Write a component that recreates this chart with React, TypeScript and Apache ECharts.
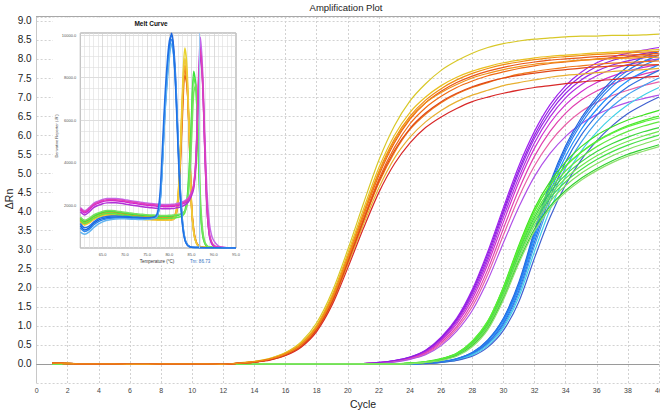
import { useEffect, useRef } from "react";
import * as echarts from "echarts";

// ---------- Amplification plot data (ΔRn per cycle) ----------
const cycles = [1,2,3,4,5,6,7,8,9,10,11,12,13,14,15,16,17,18,19,20,21,22,23,24,25,26,27,28,29,30,31,32,33,34,35,36,37,38,39,40];

const ampOrange = [
  [0.03,0.02,0,0,0,-0.01,-0.01,0,0,0,0,-0.01,0.03,0.07,0.15,0.3,0.58,1.08,1.9,3.0,4.2,5.35,6.25,6.9,7.35,7.7,7.95,8.15,8.3,8.4,8.47,8.52,8.55,8.58,8.6,8.6,8.62,8.62,8.63,8.65],
  [0.03,0.02,0,0,0,-0.01,-0.01,0,0,0,0,-0.01,0.02,0.06,0.14,0.29,0.55,1.02,1.82,2.9,4.05,5.15,6.0,6.6,7.0,7.3,7.52,7.68,7.8,7.9,7.97,8.03,8.07,8.1,8.13,8.16,8.18,8.2,8.22,8.25],
  [0.02,0.02,0,0,0,-0.01,-0.01,0,0,0,0,-0.01,0.02,0.06,0.13,0.27,0.52,0.98,1.76,2.82,3.95,5.05,5.9,6.5,6.92,7.22,7.45,7.62,7.75,7.85,7.92,7.98,8.03,8.06,8.09,8.12,8.14,8.16,8.18,8.2],
  [0.02,0.01,0,0,0,-0.01,-0.01,0,0,0,0,-0.01,0.02,0.05,0.12,0.25,0.5,0.95,1.7,2.75,3.88,4.95,5.8,6.42,6.85,7.15,7.38,7.55,7.68,7.78,7.86,7.92,7.97,8.0,8.03,8.06,8.08,8.1,8.12,8.15],
  [0.02,0.01,0,0,0,-0.01,-0.01,0,0,0,0,-0.01,0.02,0.05,0.12,0.24,0.48,0.92,1.66,2.7,3.8,4.85,5.68,6.3,6.72,7.02,7.25,7.42,7.56,7.66,7.75,7.82,7.88,7.92,7.96,8.0,8.03,8.05,8.08,8.1],
  [0.02,0.01,0,0,0,-0.01,-0.01,0,0,0,0,-0.01,0.02,0.05,0.11,0.23,0.46,0.9,1.62,2.65,3.72,4.75,5.55,6.15,6.55,6.85,7.08,7.25,7.38,7.5,7.6,7.67,7.73,7.78,7.82,7.86,7.89,7.91,7.93,7.95],
  [0.02,0.01,0,0,0,-0.01,-0.01,0,0,0,0,-0.01,0.02,0.05,0.11,0.23,0.45,0.88,1.6,2.6,3.65,4.62,5.4,5.95,6.35,6.65,6.88,7.05,7.18,7.3,7.38,7.45,7.52,7.57,7.6,7.64,7.67,7.7,7.72,7.75],
  [0.02,0.01,0,0,0,-0.01,-0.01,0,0,0,0,-0.01,0.02,0.05,0.1,0.22,0.44,0.85,1.55,2.52,3.55,4.5,5.25,5.8,6.2,6.48,6.7,6.88,7.0,7.1,7.18,7.25,7.3,7.35,7.4,7.43,7.46,7.5,7.52,7.55],
  [0.02,0.01,0,0,0,-0.01,-0.01,0,0,0,0,-0.01,0.02,0.05,0.12,0.24,0.47,0.9,1.63,2.66,3.75,4.8,5.6,6.18,6.58,6.88,7.1,7.27,7.4,7.5,7.57,7.63,7.68,7.72,7.76,7.79,7.81,7.83,7.84,7.85],
  [0.02,0.01,0,0,0,-0.01,-0.01,0,0,0,0,-0.01,0.02,0.06,0.13,0.26,0.5,0.96,1.72,2.78,3.92,5.0,5.85,6.45,6.85,7.12,7.33,7.5,7.62,7.72,7.8,7.86,7.9,7.94,7.97,7.99,8.01,8.02,8.04,8.05],
];
const ampOrangeColors = ["#d8c828","#e8c020","#f08a10","#e8561a","#f06a14","#f07818","#e8b030","#d82828","#e04818","#f09018"];

const ampMagenta = [
  [0.03,0.02,0,0,0,0,0,0,0,0,0,0,0,0,0,0,0,0,0,0,0.01,0.04,0.09,0.18,0.36,0.7,1.2,1.95,2.95,4.1,5.2,6.1,6.8,7.3,7.65,7.9,8.05,8.15,8.23,8.3],
  [0.03,0.02,0,0,0,0,0,0,0,0,0,0,0,0,0,0,0,0,0,0,0.01,0.03,0.08,0.17,0.34,0.66,1.14,1.85,2.8,3.95,5.02,5.92,6.6,7.1,7.45,7.68,7.84,7.95,8.03,8.1],
  [0,0,0,0,0,0,0,0,0,0,0,0,0,0,0,0,0,0,0,0,0.01,0.03,0.08,0.16,0.32,0.63,1.1,1.78,2.72,3.85,4.9,5.8,6.48,6.98,7.32,7.56,7.73,7.85,7.93,8.0],
  [0,0,0,0,0,0,0,0,0,0,0,0,0,0,0,0,0,0,0,0,0.01,0.03,0.07,0.15,0.3,0.6,1.05,1.7,2.62,3.72,4.78,5.66,6.32,6.8,7.14,7.38,7.55,7.68,7.78,7.85],
  [0,0,0,0,0,0,0,0,0,0,0,0,0,0,0,0,0,0,0,0,0.01,0.03,0.07,0.14,0.28,0.56,0.98,1.6,2.48,3.55,4.58,5.45,6.1,6.58,6.92,7.16,7.34,7.48,7.6,7.7],
  [0,0,0,0,0,0,0,0,0,0,0,0,0,0,0,0,0,0,0,0,0.01,0.02,0.06,0.13,0.26,0.52,0.92,1.5,2.35,3.38,4.38,5.2,5.82,6.28,6.62,6.86,7.04,7.18,7.3,7.4],
  [0,0,0,0,0,0,0,0,0,0,0,0,0,0,0,0,0,0,0,0,0.01,0.02,0.05,0.12,0.24,0.48,0.86,1.4,2.2,3.18,4.12,4.92,5.52,5.97,6.3,6.54,6.72,6.86,6.96,7.05],
  [0,0,0,0,0,0,0,0,0,0,0,0,0,0,0,0,0,0,0,0,0.01,0.04,0.09,0.18,0.35,0.68,1.17,1.9,2.88,4.02,5.1,6.0,6.7,7.2,7.55,7.8,7.96,8.06,8.14,8.2],
];
const ampMagentaColors = ["#a020f0","#9a28e8","#b030e0","#d030d0","#e040b0","#e860a8","#b050e8","#9020e0"];

const ampBlue = [
  [0,0,0,0,0,0,0,0,0,0,0,0,0,0,0,0,0,0,0,0,0,0,0,0,0.02,0.06,0.14,0.3,0.63,1.2,2.15,3.5,4.75,5.72,6.45,7.0,7.45,7.8,8.05,8.2],
  [0,0,0,0,0,0,0,0,0,0,0,0,0,0,0,0,0,0,0,0,0,0,0,0,0.02,0.05,0.13,0.29,0.6,1.15,2.05,3.38,4.62,5.58,6.3,6.85,7.28,7.6,7.83,8.0],
  [0,0,0,0,0,0,0,0,0,0,0,0,0,0,0,0,0,0,0,0,0,0,0,0,0.02,0.05,0.12,0.27,0.57,1.1,2.0,3.3,4.5,5.45,6.15,6.68,7.1,7.43,7.66,7.85],
  [0,0,0,0,0,0,0,0,0,0,0,0,0,0,0,0,0,0,0,0,0,0,0,0,0.02,0.05,0.12,0.26,0.55,1.05,1.92,3.2,4.38,5.3,6.0,6.52,6.95,7.27,7.5,7.7],
  [0,0,0,0,0,0,0,0,0,0,0,0,0,0,0,0,0,0,0,0,0,0,0,0,0.02,0.05,0.11,0.25,0.52,1.0,1.85,3.1,4.25,5.15,5.82,6.35,6.76,7.07,7.3,7.5],
  [0,0,0,0,0,0,0,0,0,0,0,0,0,0,0,0,0,0,0,0,0,0,0,0,0.02,0.04,0.1,0.23,0.48,0.95,1.76,2.95,4.05,4.92,5.58,6.08,6.48,6.8,7.05,7.25],
  [0,0,0,0,0,0,0,0,0,0,0,0,0,0,0,0,0,0,0,0,0,0,0,0,0.01,0.04,0.09,0.2,0.44,0.88,1.64,2.78,3.85,4.7,5.35,5.85,6.25,6.57,6.8,7.0],
  [0,0,0,0,0,0,0,0,0,0,0,0,0,0,0,0,0,0,0,0,0,0,0,0,0.02,0.06,0.13,0.3,0.62,1.18,2.1,3.45,4.7,5.66,6.38,6.93,7.37,7.7,7.93,8.1],
];
const ampBlueColors = ["#1e64e0","#2a80f0","#1e90ff","#3070e0","#40a0f0","#40d0e8","#4060d0","#2878e8"];

const ampGreen = [
  [0,0,0,0,0,0,0,0,0,0,0,0,0,0,0,0,0,0,0,0,0,0,0,0.02,0.06,0.14,0.28,0.6,1.12,2.02,3.12,4.08,4.78,5.3,5.7,6.0,6.22,6.4,6.53,6.65],
  [0,0,0,0,0,0,0,0,0,0,0,0,0,0,0,0,0,0,0,0,0,0,0,0.02,0.05,0.13,0.27,0.58,1.1,1.98,3.05,4.0,4.68,5.18,5.56,5.85,6.07,6.25,6.39,6.5],
  [0,0,0,0,0,0,0,0,0,0,0,0,0,0,0,0,0,0,0,0,0,0,0,0.02,0.05,0.12,0.26,0.56,1.07,1.93,3.0,3.92,4.58,5.06,5.42,5.7,5.92,6.1,6.24,6.35],
  [0,0,0,0,0,0,0,0,0,0,0,0,0,0,0,0,0,0,0,0,0,0,0,0.02,0.05,0.12,0.25,0.55,1.05,1.9,2.95,3.85,4.5,4.96,5.3,5.57,5.78,5.95,6.09,6.2],
  [0,0,0,0,0,0,0,0,0,0,0,0,0,0,0,0,0,0,0,0,0,0,0,0.02,0.05,0.11,0.24,0.53,1.02,1.86,2.9,3.78,4.42,4.87,5.2,5.46,5.67,5.84,5.98,6.1],
  [0,0,0,0,0,0,0,0,0,0,0,0,0,0,0,0,0,0,0,0,0,0,0,0.01,0.04,0.11,0.24,0.52,1.0,1.83,2.85,3.72,4.35,4.78,5.1,5.36,5.57,5.74,5.88,6.0],
  [0,0,0,0,0,0,0,0,0,0,0,0,0,0,0,0,0,0,0,0,0,0,0,0.01,0.04,0.1,0.23,0.5,0.97,1.78,2.78,3.64,4.26,4.68,5.0,5.25,5.46,5.63,5.77,5.9],
  [0,0,0,0,0,0,0,0,0,0,0,0,0,0,0,0,0,0,0,0,0,0,0,0.01,0.04,0.1,0.22,0.48,0.93,1.72,2.7,3.54,4.14,4.55,4.87,5.12,5.33,5.5,5.63,5.75],
  [0,0,0,0,0,0,0,0,0,0,0,0,0,0,0,0,0,0,0,0,0,0,0,0.02,0.06,0.13,0.28,0.6,1.13,2.0,3.08,4.02,4.7,5.2,5.55,5.83,6.05,6.22,6.35,6.45],
  [0,0,0,0,0,0,0,0,0,0,0,0,0,0,0,0,0,0,0,0,0,0,0,0.01,0.04,0.09,0.2,0.45,0.9,1.68,2.65,3.48,4.08,4.5,4.82,5.07,5.28,5.45,5.58,5.7],
];
const ampGreenColors = ["#40e020","#50e830","#60e840","#3cd83c","#70e850","#48e048","#80e060","#30d030","#58f038","#90e070"];

// ---------- Melt curve data (derivative reporter vs temperature) ----------
const meltTemps = [60,61,62,63,64,65,66,67,68,69,70,71,72,73,74,75,76,77,77.5,78,78.5,79,79.5,80,80.5,81,81.5,82,82.5,83,83.5,84,84.5,85,85.5,86,86.5,87,87.5,88,88.5,89,89.5,90,91,92,93,95];

const meltBlue = [
  [1050,850,950,1150,1300,1380,1420,1440,1450,1450,1440,1430,1420,1410,1400,1400,1410,1450,1650,2400,4300,6500,8100,9400,10100,9400,7700,5000,2700,1200,450,180,80,40,30,25,20,20,20,15,15,15,10,10,10,10,10,5],
  [950,780,880,1080,1230,1320,1370,1400,1410,1410,1400,1390,1380,1370,1360,1360,1380,1420,1600,2300,4100,6300,7900,9200,9800,9100,7400,4800,2500,1100,400,160,70,35,25,20,20,15,15,15,10,10,10,10,10,5,5,5],
  [750,650,760,950,1120,1230,1300,1340,1360,1370,1370,1360,1350,1340,1340,1350,1370,1420,1620,2350,4150,6200,7700,8900,9600,9000,7400,4900,2600,1150,430,170,75,40,25,20,20,15,15,15,10,10,10,10,10,5,5,5],
  [1150,950,1030,1220,1370,1440,1480,1500,1500,1490,1480,1470,1450,1440,1430,1420,1430,1500,1800,2800,4900,7000,8600,9700,10000,9100,7200,4500,2300,1000,380,150,70,35,25,20,20,15,15,15,10,10,10,10,10,5,5,5],
];
const meltBlueColors = ["#1a5fd8","#2c86ec","#62b4f0","#1f70e6"];

const meltOrange = [
  [1350,1200,1300,1450,1550,1620,1650,1650,1630,1600,1570,1540,1510,1490,1470,1450,1440,1430,1425,1420,1415,1410,1410,1410,1420,1450,1600,2300,4200,6800,8400,7700,5200,2000,800,300,120,60,40,30,25,20,20,15,15,10,10,5],
  [1400,1250,1350,1500,1600,1670,1700,1700,1680,1650,1620,1590,1560,1540,1520,1500,1490,1480,1470,1460,1455,1450,1450,1450,1460,1500,1700,2500,4500,7100,8600,7800,5100,1900,750,280,110,55,40,30,25,20,20,15,15,10,10,5],
  [1250,1100,1200,1350,1450,1520,1560,1560,1540,1510,1480,1450,1420,1400,1380,1360,1350,1340,1335,1330,1325,1320,1320,1320,1330,1360,1500,2150,3900,6400,8100,7600,5300,2100,850,320,130,60,40,30,25,20,20,15,15,10,10,5],
];
const meltOrangeColors = ["#f07a12","#f58a1c","#e86a10"];

const meltYellow = [
  [1300,1150,1250,1400,1500,1570,1600,1600,1580,1550,1520,1490,1460,1440,1420,1400,1390,1380,1375,1370,1365,1360,1360,1360,1370,1410,1600,2500,4700,7600,9400,8400,5400,2000,750,280,110,55,40,30,25,20,20,15,15,10,10,5],
  [1200,1080,1180,1330,1430,1500,1530,1530,1510,1480,1450,1420,1390,1370,1350,1330,1320,1310,1305,1300,1300,1300,1300,1300,1310,1350,1530,2350,4400,7200,8900,8000,5200,1950,720,270,110,55,40,30,25,20,20,15,15,10,10,5],
];
const meltYellowColors = ["#e8d22c","#f0c83a"];

const meltGreen = [
  [1400,1250,1350,1500,1600,1680,1720,1720,1700,1670,1640,1610,1580,1560,1540,1520,1510,1500,1495,1490,1490,1490,1490,1495,1500,1510,1520,1540,1570,1620,1750,2300,3800,6200,8300,7600,4600,1800,600,200,80,40,30,20,15,10,10,5],
  [1300,1150,1250,1400,1500,1580,1620,1620,1600,1570,1540,1510,1480,1460,1440,1420,1410,1400,1395,1390,1390,1390,1390,1395,1400,1410,1420,1440,1470,1520,1650,2150,3600,5900,8000,7500,4700,1900,650,220,90,45,30,20,15,10,10,5],
  [1450,1300,1400,1550,1650,1720,1760,1760,1740,1710,1680,1650,1620,1600,1580,1560,1550,1540,1535,1530,1530,1530,1530,1535,1540,1550,1560,1580,1600,1640,1720,2000,3000,5000,7300,7700,5600,2400,850,280,110,50,30,20,15,10,10,5],
];
const meltGreenColors = ["#3ee03e","#5ae84a","#78e060"];

const meltMagenta = [
  [1800,1650,1800,2000,2100,2180,2220,2230,2220,2200,2170,2130,2100,2070,2040,2010,1990,1970,1960,1950,1945,1940,1940,1945,1950,1960,1980,2000,2030,2070,2120,2200,2330,2550,2900,4100,7300,9500,7900,4600,1800,600,220,90,30,20,15,10],
  [1900,1750,1900,2100,2200,2280,2320,2330,2320,2300,2270,2230,2200,2170,2140,2110,2090,2070,2060,2050,2045,2040,2040,2045,2050,2060,2080,2100,2130,2170,2220,2300,2430,2650,3000,4300,7600,9900,8300,5200,2600,1200,600,350,100,30,15,10],
  [1700,1550,1700,1900,2000,2080,2120,2130,2120,2100,2070,2030,2000,1970,1940,1910,1890,1870,1860,1850,1845,1840,1840,1845,1850,1860,1880,1900,1930,1970,2020,2100,2230,2450,2800,3900,7000,9100,7700,4500,1800,600,220,90,30,20,15,10],
  [1850,1700,1850,2050,2150,2230,2270,2280,2270,2250,2220,2180,2150,2120,2090,2060,2040,2020,2010,2000,1995,1990,1990,1995,2000,2010,2030,2050,2080,2120,2170,2250,2380,2600,2950,4200,7200,9300,7800,4700,1900,700,300,120,40,20,15,10],
];
const meltMagentaColors = ["#d21ed2","#c468e8","#b030d8","#e040b8"];

const meltTm = 86.73;

const FONT = "'Liberation Sans', Arial, sans-serif";

export default function App() {
  const ref = useRef<HTMLDivElement>(null);

  useEffect(() => {
    if (!ref.current) return;
    const chart = echarts.init(ref.current, null, { renderer: "svg" });

    const ampSeries = (group: number[][], colors: string[]) =>
      group.map((vals, i) => ({
        type: "line",
        xAxisIndex: 0,
        yAxisIndex: 0,
        data: cycles.map((c, j) => [c, vals[j]]),
        symbol: "none",
        showSymbol: false,
        smooth: 0.3,
        silent: true,
        z: 2,
        lineStyle: { width: 1.2, color: colors[i] },
        itemStyle: { color: colors[i] },
      }));

    const meltSeries = (group: number[][], colors: string[]) =>
      group.map((vals, i) => ({
        type: "line",
        xAxisIndex: 1,
        yAxisIndex: 1,
        data: meltTemps.map((t, j) => [t, vals[j]]),
        symbol: "none",
        showSymbol: false,
        smooth: 0.3,
        silent: true,
        z: 4,
        lineStyle: { width: 1.5, color: colors[i] },
        itemStyle: { color: colors[i] },
      }));

    const tmLine = {
      type: "line",
      xAxisIndex: 1,
      yAxisIndex: 1,
      data: [],
      z: 4,
      silent: true,
      markLine: {
        silent: true,
        symbol: "none",
        label: { show: false },
        lineStyle: { color: "#9cc8f0", width: 1, type: "solid" },
        data: [{ xAxis: meltTm }],
      },
    };

    const option: any = {
      animation: false,
      textStyle: { fontFamily: FONT },
      grid: [
        { left: 36.6, right: 1, top: 17, bottom: 31, outerBoundsMode: "none", containLabel: false },
        {
          left: 80.3, right: 424, top: 33, bottom: 166,
          show: true, backgroundColor: "transparent", borderColor: "#9a9a9a", borderWidth: 1, z: 3,
          outerBoundsMode: "none", containLabel: false,
        },
      ],
      xAxis: [
        {
          type: "value", gridIndex: 0, min: 0, max: 40, interval: 2,
          axisLine: { show: true, lineStyle: { color: "#9a9a9a" } },
          axisTick: { show: false },
          axisLabel: { fontSize: 7, color: "#444", margin: 4, fontFamily: FONT },
          splitLine: { show: true, lineStyle: { color: "#d2d2d2", type: [2, 2], width: 1 } },
        },
        {
          type: "value", gridIndex: 1, min: 60, max: 95, interval: 5, z: 3,
          axisLine: { show: false },
          axisTick: { show: false },
          minorTick: { show: false, splitNumber: 5 },
          axisLabel: {
            fontSize: 4, color: "#555", margin: 4, fontFamily: FONT,
            formatter: (v: number) => (v > 60 && v % 5 === 0 ? v.toFixed(1) : ""),
          },
          splitLine: { show: true, lineStyle: { color: "#cfcfcf", width: 0.7 } },
          minorSplitLine: { show: true, lineStyle: { color: "#dedede", width: 0.6 } },
        },
      ],
      yAxis: [
        {
          type: "value", gridIndex: 0, min: -0.5, max: 9.1, interval: 0.5,
          axisLine: { show: true, lineStyle: { color: "#c8c8c8" } },
          axisTick: { show: false },
          axisLabel: {
            fontSize: 10, color: "#222", margin: 5, fontFamily: FONT,
            formatter: (v: number) =>
              v >= -0.0001 && v <= 9.0001 && Math.abs(v * 2 - Math.round(v * 2)) < 1e-6 ? v.toFixed(1) : "",
          },
          splitLine: { show: true, lineStyle: { color: "#d2d2d2", type: [2, 2], width: 1 } },
        },
        {
          type: "value", gridIndex: 1, min: 0, max: 10100, interval: 2000, z: 3,
          axisLine: { show: false },
          axisTick: { show: false },
          minorTick: { show: false, splitNumber: 4 },
          axisLabel: {
            fontSize: 4, color: "#555", margin: 4, fontFamily: FONT,
            formatter: (v: number) => (v > 0 && v % 2000 === 0 ? v.toFixed(1) : ""),
          },
          splitLine: { show: true, lineStyle: { color: "#cfcfcf", width: 0.7 } },
          minorSplitLine: { show: true, lineStyle: { color: "#dedede", width: 0.6 } },
        },
      ],
      graphic: [
        { type: "rect", z: 1, silent: true, shape: { x: 53, y: 17.5, width: 188, height: 248 }, style: { fill: "#ffffff" } },
        { type: "line", z: 6, silent: true, shape: { x1: 36, y1: 16.5, x2: 660, y2: 16.5 }, style: { stroke: "#a8a8a8", lineWidth: 1 } },
        { type: "text", z: 10, x: 346, y: 7, style: { text: "Amplification Plot", fontSize: 9.5, fill: "#222", align: "center", verticalAlign: "middle", fontFamily: FONT } },
        { type: "text", z: 10, x: 9, y: 199, rotation: Math.PI / 2, style: { text: "ΔRn", fontSize: 10.5, fill: "#222", align: "center", verticalAlign: "middle", fontFamily: FONT } },
        { type: "text", z: 10, x: 363, y: 404, style: { text: "Cycle", fontSize: 10.5, fill: "#222", align: "center", verticalAlign: "middle", fontFamily: FONT } },
        { type: "text", z: 10, x: 151, y: 23, style: { text: "Melt Curve", fontSize: 6.5, fontWeight: "bold", fill: "#111", align: "center", verticalAlign: "middle", fontFamily: FONT } },
        { type: "text", z: 10, x: 157, y: 261, style: { text: "Temperature (°C)", fontSize: 4.5, fill: "#333", align: "center", verticalAlign: "middle", fontFamily: FONT } },
        { type: "text", z: 10, x: 200, y: 261, style: { text: "Tm: 86.73", fontSize: 4.5, fill: "#2f6fc0", align: "center", verticalAlign: "middle", fontFamily: FONT } },
        { type: "text", z: 10, x: 56, y: 136, rotation: Math.PI / 2, style: { text: "Derivative Reporter (-R')", fontSize: 4, fill: "#444", align: "center", verticalAlign: "middle", fontFamily: FONT } },
      ],
      series: [
        ...ampSeries(ampMagenta, ampMagentaColors),
        ...ampSeries(ampBlue, ampBlueColors),
        ...ampSeries(ampGreen, ampGreenColors),
        ...ampSeries(ampOrange, ampOrangeColors),
        tmLine,
        ...meltSeries(meltOrange, meltOrangeColors),
        ...meltSeries(meltYellow, meltYellowColors),
        ...meltSeries(meltGreen, meltGreenColors),
        ...meltSeries(meltMagenta, meltMagentaColors),
        ...meltSeries(meltBlue, meltBlueColors),
      ],
    };

    chart.setOption(option);
    return () => chart.dispose();
  }, []);

  return (
    <div
      ref={ref}
      style={{ position: "absolute", left: 0, top: 0, width: 660, height: 414, background: "#fff" }}
    />
  );
}
